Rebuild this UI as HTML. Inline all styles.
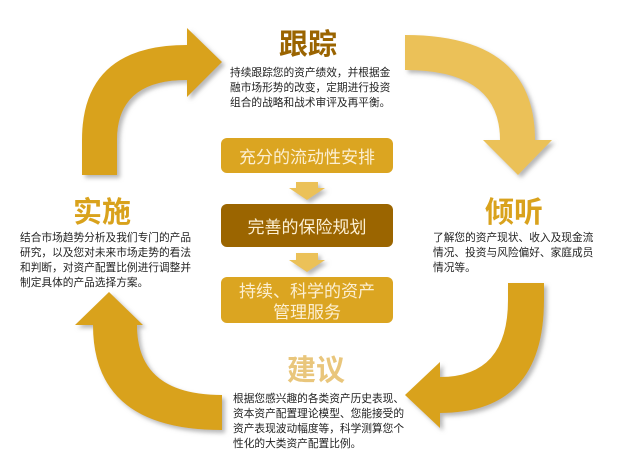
<!DOCTYPE html>
<html><head><meta charset="utf-8"><style>
html,body{margin:0;padding:0;background:#fff;}
#c{position:relative;width:640px;height:476px;overflow:hidden;font-family:"Liberation Sans","Noto Sans CJK SC",sans-serif;}
.t{position:absolute;font-weight:bold;font-size:29px;line-height:32px;white-space:nowrap;font-family:"Noto Sans CJK SC",sans-serif;}
.p{position:absolute;font-size:10.7px;line-height:15px;color:#222;white-space:nowrap;}
.b{position:absolute;left:221px;width:172px;border-radius:6px;color:#FCEFD2;font-size:17px;text-align:center;font-family:"Noto Sans CJK SC",sans-serif;}
</style></head><body><div id="c">
<svg width="640" height="476" style="position:absolute;left:0;top:0">
<defs><filter id="s" x="-20%" y="-20%" width="150%" height="150%"><feDropShadow dx="3" dy="3" stdDeviation="2" flood-color="#888" flood-opacity="0.6"/></filter></defs>
<g filter="url(#s)">
<path d="M82,175 L82,140 Q82,45 187,45 L187,28 L222,62 L187,97 L187,80 Q117,80 117,140 L117,175 Z" fill="#D9A21C"/>
<path d="M405,35 Q535,35 535,140 L552,140 L518,175 L483,140 L500,140 Q500,70 405,70 Z" fill="#EBC158"/>
<path d="M544,283 L544,300 Q544,413 440,413 L440,428 L405,395 L440,362 L440,377 Q508,377 508,300 L508,283 Z" fill="#D9A21C"/>
<path d="M222,430 Q93,430 93,325 L75,325 L109,292 L143,325 L137,325 Q137,395 222,395 Z" fill="#D9A21C"/>
<path d="M296,182 L318,182 L318,188 L325,188 L307,200 L289,188 L296,188 Z" fill="#EBC158"/>
<path d="M296,253 L318,253 L318,260 L325,260 L307,272 L289,260 L296,260 Z" fill="#EBC158"/>
</g>
</svg>
<div class="t" style="left:279px;top:26px;color:#9A6400">跟踪</div>
<div class="t" style="left:485px;top:194px;color:#D9A21C">倾听</div>
<div class="t" style="left:73px;top:194px;color:#D9A21C">实施</div>
<div class="t" style="left:287px;top:352px;color:#E9C67C">建议</div>
<div class="p" style="left:230px;top:66px">持续跟踪您的资产绩效，并根据金<br>融市场形势的改变，定期进行投资<br>组合的战略和战术审评及再平衡。</div>
<div class="p" style="left:433px;top:231px">了解您的资产现状、收入及现金流<br>情况、投资与风险偏好、家庭成员<br>情况等。</div>
<div class="p" style="left:20px;top:231px">结合市场趋势分析及我们专门的产品<br>研究，以及您对未来市场走势的看法<br>和判断，对资产配置比例进行调整并<br>制定具体的产品选择方案。</div>
<div class="p" style="left:233px;top:392px">根据您感兴趣的各类资产历史表现、<br>资本资产配置理论模型、您能接受的<br>资产表现波动幅度等，科学测算您个<br>性化的大类资产配置比例。</div>
<div class="b" style="top:138px;height:35px;line-height:35px;background:#DBA521">充分的流动性安排</div>
<div class="b" style="top:204px;height:43px;line-height:43px;background:#9B6500">完善的保险规划</div>
<div class="b" style="top:277px;height:46px;line-height:21px;padding-top:2px;box-sizing:border-box;background:#DBA521">持续、科学的资产<br>管理服务</div>
</div></body></html>
